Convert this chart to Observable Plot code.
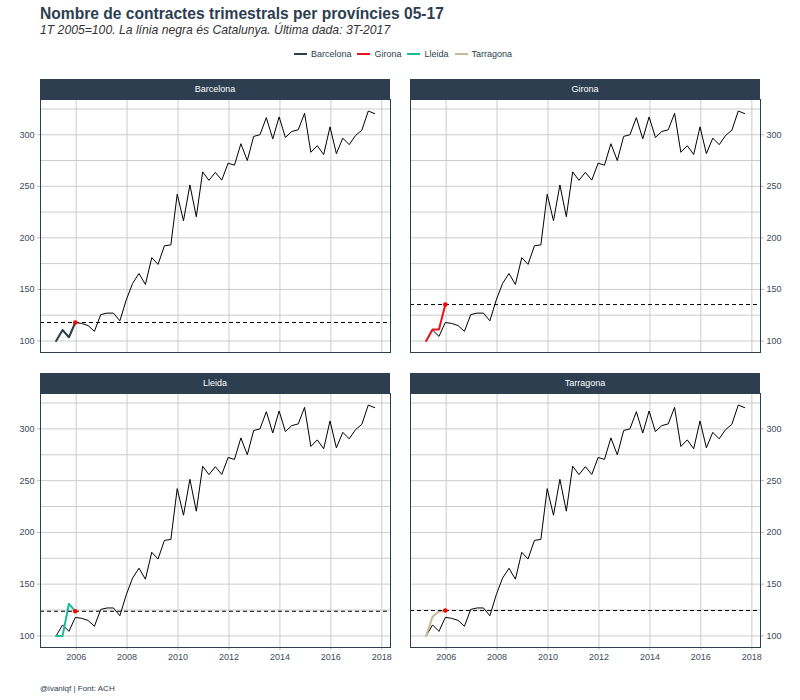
<!DOCTYPE html>
<html>
<head>
<meta charset="utf-8">
<script src="https://cdn.jsdelivr.net/npm/d3@7"></script>
<script src="https://cdn.jsdelivr.net/npm/@observablehq/plot@0.6"></script>
<style>
  body { margin: 0; background: #fff; font-family: "Liberation Sans", Arial, sans-serif; }
  #chart { position: relative; width: 800px; height: 700px; }
  .abs { position: absolute; }
  .titol { left: 40px; top: 6px; font-size: 15.6px; line-height: 16px; font-weight: bold; color: #2c3e50; white-space: nowrap; }
  .subtitol { left: 40px; top: 24px; font-size: 12.2px; line-height: 12px; font-style: italic; color: #333; white-space: nowrap; }
  .llegenda { left: 0; width: 806px; top: 48px; height: 12px; display: flex; justify-content: center; align-items: center; font-size: 9px; color: #2c3e50; }
  .llegenda span.item { display: flex; align-items: center; margin: 0 3px; }
  .llegenda span.sw { display: inline-block; width: 13px; height: 2px; margin-right: 4px; }
  .strip { height: 20px; background: #2c3e50; color: #fff; font-size: 9px; line-height: 20px; text-align: center; }
  .peu { left: 40px; top: 684px; font-size: 8px; color: #2c3e50; }
</style>
</head>
<body>
<div id="chart">
  <div class="abs titol">Nombre de contractes trimestrals per províncies 05-17</div>
  <div class="abs subtitol">1T 2005=100. La línia negra és Catalunya. Última dada: 3T-2017</div>
  <div class="abs llegenda" id="llegenda"></div>
  <div class="abs peu">@ivanlqf | Font: ACH</div>
</div>
<script>
// Catalunya, trimestral des de 1T 2005 (1T 2005 = 100)
const inici = 2005;
const catalunya = [100, 110.6, 104.4, 117.9, 117, 115, 109.3, 125.6, 127, 127, 119.5, 139.7,
  155.8, 165.4, 154.8, 180.8, 174.3, 192.3, 193.2, 242.3, 216.6, 251.3, 220.5, 264,
  255.8, 263.5, 256, 272.4, 270.5, 291.3, 275, 298.4, 300, 316.6, 296, 317.3,
  297.4, 303.2, 304.8, 320.8, 283, 289.4, 280.8, 307.7, 281.7, 296.7, 290.4, 299.3,
  304.4, 323, 320.5];

// províncies: només els primers trimestres (fotograma de l'animació)
const provincies = ["Barcelona", "Girona", "Lleida", "Tarragona"];
const colors = ["#2c3e50", "#e8141c", "#18bc9c", "#c8b993"];
const barcelona = [100, 110.6, 103.5, 117.9];
const girona = [100, 111, 111, 135.3];
const lleida = [100, 100, 131, 123.8];
const tarragona = [100, 118.5, 123.5, 124.5];

const ticksY = [100, 150, 200, 250, 300];
const graellaY = [100, 125, 150, 175, 200, 225, 250, 275, 300, 325];
const anysX = [2006, 2008, 2010, 2012, 2014, 2016, 2018];

const serie = vals => vals.map((v, i) => ({
  date: new Date(Date.UTC(inici + Math.floor(i / 4), 3 * (i % 4) + 2, 20)), v
}));
const anys = anysX.map(a => new Date(Date.UTC(a, 0, 1)));
const xDomini = [new Date(Date.UTC(2004, 7, 8)), new Date(Date.UTC(2018, 4, 5))];

// llegenda
d3.select("#llegenda").selectAll("span.item")
  .data(provincies)
  .join("span").attr("class", "item")
  .html((d, i) => `<span class="sw" style="background:${colors[i]}"></span>${d}`);

function panell(vals, color, costat, baix) {
  const cat = serie(catalunya);
  const prov = serie(vals);
  const darrer = prov[prov.length - 1];
  return Plot.plot({
    width: 396,
    height: baix ? 276 : 255,
    marginTop: 1,
    marginBottom: baix ? 21 : 1,
    marginLeft: costat === "left" ? 40 : 6,
    marginRight: costat === "left" ? 6 : 40,
    style: { fontFamily: "Liberation Sans, Arial, sans-serif", fontSize: "9px", background: "transparent", overflow: "visible" },
    x: { type: "utc", domain: xDomini, axis: null },
    y: { domain: [88.8, 334.2], axis: null },
    marks: [
      Plot.gridY(graellaY, { stroke: "#cccccc", strokeOpacity: 1 }),
      Plot.gridX(anys, { stroke: "#cccccc", strokeOpacity: 1 }),
      Plot.axisY(ticksY, { anchor: costat, tickSize: 3, tickPadding: 3, label: null, stroke: "#bbbbbb", fill: "#3b4b5b" }),
      baix ? Plot.axisX(anys, { tickFormat: "%Y", tickSize: 3, tickPadding: 3, label: null, stroke: "#bbbbbb", fill: "#3b4b5b" }) : null,
      Plot.line(cat, { x: "date", y: "v", stroke: "black", strokeWidth: 1 }),
      Plot.line(prov, { x: "date", y: "v", stroke: color, strokeWidth: 2 }),
      Plot.ruleY([darrer.v], { stroke: "black", strokeWidth: 1, strokeDasharray: "4,3" }),
      Plot.dot([darrer], { x: "date", y: "v", fill: "red", r: 2.3 }),
      Plot.frame({ stroke: "#2c3e50", strokeWidth: 1 })
    ]
  });
}

const panells = [
  { nom: "Barcelona", vals: barcelona, col: 0, fila: 0 },
  { nom: "Girona", vals: girona, col: 1, fila: 0 },
  { nom: "Lleida", vals: lleida, col: 0, fila: 1 },
  { nom: "Tarragona", vals: tarragona, col: 1, fila: 1 }
];

const chart = d3.select("#chart");
panells.forEach((p, i) => {
  const esq = p.col === 0 ? 0 : 404;
  const stripTop = p.fila === 0 ? 79 : 373;
  chart.append("div").attr("class", "abs strip")
    .style("left", (esq + (p.col === 0 ? 40 : 6)) + "px")
    .style("width", "350px")
    .style("top", stripTop + "px")
    .text(p.nom);
  chart.append("div").attr("class", "abs")
    .style("left", esq + "px")
    .style("top", (stripTop + 19) + "px")
    .append(() => panell(p.vals, colors[i], p.col === 0 ? "left" : "right", p.fila === 1));
});
</script>
</body>
</html>
